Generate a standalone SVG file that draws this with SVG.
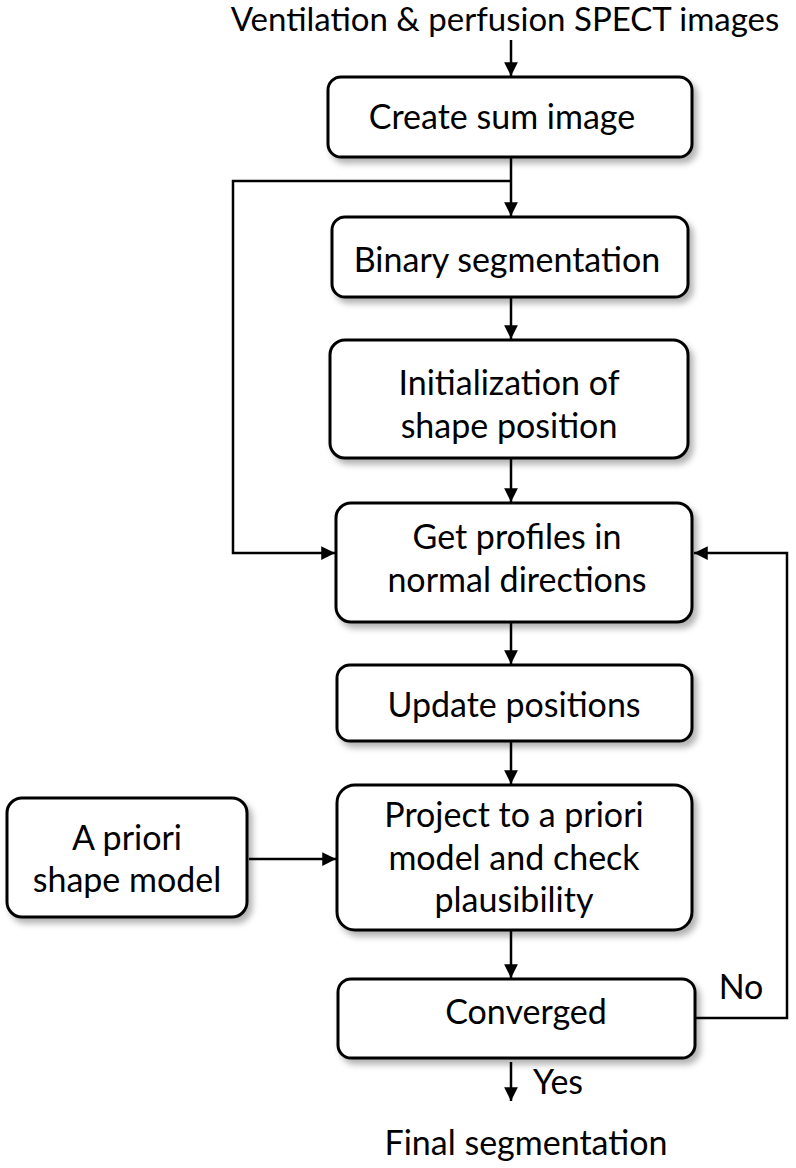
<svg xmlns="http://www.w3.org/2000/svg" width="796" height="1168" viewBox="0 0 796 1168">
<defs>
<filter id="sh" x="-10%" y="-10%" width="125%" height="130%">
<feDropShadow dx="4" dy="5" stdDeviation="3" flood-color="#000" flood-opacity="0.3"/>
</filter>
<marker id="ah" viewBox="0 0 10 10" refX="10" refY="5" markerWidth="6" markerHeight="5.5" orient="auto" markerUnits="strokeWidth">
<path d="M0,0 L10,5 L0,10 z" fill="#000"/>
</marker>
<style>
.box{fill:#fff;stroke:#000;stroke-width:3;filter:url(#sh)}
.t{font-family:Lato,"Open Sans",sans-serif;font-size:34px;fill:#000;text-anchor:middle}
.c{fill:none;stroke:#000;stroke-width:2.5}
.ca{fill:none;stroke:#000;stroke-width:2.5;marker-end:url(#ah)}
</style>
</defs>
<rect width="796" height="1168" fill="#fff"/>
<text class="t" x="505" y="31" style="font-size:33px">Ventilation &amp; perfusion SPECT images</text>
<text class="t" x="526" y="1155">Final segmentation</text>

<g id="connectors">
<path class="ca" d="M511,40 V76"/>
<path class="ca" d="M511,158 V216"/>
<path class="ca" d="M511,181 H233 V553 H335"/>
<path class="ca" d="M511,298 V339"/>
<path class="ca" d="M511,459 V502"/>
<path class="ca" d="M511,623 V664"/>
<path class="ca" d="M511,742 V784"/>
<path class="ca" d="M249,859 H336"/>
<path class="ca" d="M511,931 V978"/>
<path class="ca" d="M695,1018 H787 V553 H694"/>
<path class="ca" d="M511,1062 V1101"/>
<text class="t" x="741" y="999">No</text>
<text class="t" x="558" y="1094">Yes</text>
</g>

<g id="n1"><rect class="box" x="328" y="77" width="364" height="80" rx="13"/><text class="t" x="502" y="129">Create sum image</text></g>
<g id="n2"><rect class="box" x="332" y="217" width="356" height="80" rx="13"/><text class="t" x="507" y="272">Binary segmentation</text></g>
<g id="n3"><rect class="box" x="330" y="340" width="358" height="118" rx="15"/><text class="t" x="509" y="395">Initialization of</text><text class="t" x="509" y="438">shape position</text></g>
<g id="n4"><rect class="box" x="336" y="503" width="356" height="119" rx="15"/><text class="t" x="517" y="549">Get profiles in</text><text class="t" x="517" y="592">normal directions</text></g>
<g id="n5"><rect class="box" x="337" y="665" width="355" height="76" rx="13"/><text class="t" x="514" y="717">Update positions</text></g>
<g id="n6"><rect class="box" x="337" y="785" width="355" height="145" rx="18"/><text class="t" x="514" y="827">Project to a priori</text><text class="t" x="514" y="870">model and check</text><text class="t" x="514" y="912">plausibility</text></g>
<g id="n7"><rect class="box" x="7" y="798" width="240" height="119" rx="15"/><text class="t" x="127" y="850">A priori</text><text class="t" x="127" y="892">shape model</text></g>
<g id="n8"><rect class="box" x="338" y="979" width="357" height="79" rx="13"/><text class="t" x="526" y="1024">Converged</text></g>
</svg>
